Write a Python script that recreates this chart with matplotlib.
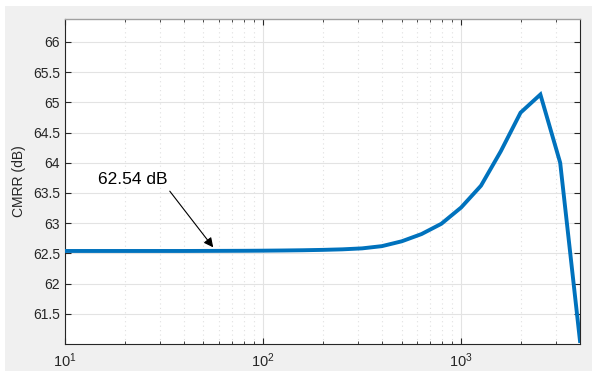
import matplotlib
matplotlib.use('Agg')
import matplotlib.pyplot as plt
from matplotlib.patches import Rectangle
from matplotlib.ticker import LogLocator, NullFormatter, FixedLocator

# Data
freq = [10.0, 12.59, 15.85, 19.95, 25.12, 31.62, 39.81, 50.12, 63.1, 79.43,
        100.0, 125.9, 158.5, 199.5, 251.2, 316.2, 398.1, 501.2, 631.0, 794.3,
        1000.0, 1259.0, 1585.0, 1995.0, 2512.0, 3162.0, 3981.0]
cmrr = [62.54, 62.54, 62.54, 62.54, 62.54, 62.54, 62.54, 62.541, 62.542, 62.543,
        62.545, 62.548, 62.552, 62.558, 62.567, 62.583, 62.62, 62.70, 62.82, 62.99,
        63.26, 63.62, 64.19, 64.83, 65.13, 64.00, 61.05]
y_ticks = [61.5, 62, 62.5, 63, 63.5, 64, 64.5, 65, 65.5, 66]
note_text = '62.54 dB'

plt.rcParams['font.family'] = ['Liberation Sans', 'DejaVu Sans']
plt.rcParams['mathtext.fontset'] = 'custom'
plt.rcParams['mathtext.rm'] = 'Liberation Sans'

fig = plt.figure(figsize=(5.92, 3.71), dpi=100, facecolor='white')
# MATLAB grey figure background, with a thin white strip left/top
fig.patches.append(Rectangle((5 / 592, 0), 1, 1 - 6 / 371, transform=fig.transFigure,
                             facecolor='#f0f0f0', edgecolor='none', zorder=-10))

ax = fig.add_axes([65 / 592, 27 / 371, 515 / 592, 325 / 371])
ax.plot(freq, cmrr, color='#0072BD', lw=2.8, solid_joinstyle='miter', zorder=3)
ax.set_xscale('log')
ax.set_xlim(10, 3981)
ax.set_ylim(61, 66.38)

ax.yaxis.set_major_locator(FixedLocator(y_ticks))
ax.set_yticklabels([f'{v:g}' for v in y_ticks])
ax.xaxis.set_major_locator(LogLocator(base=10))
ax.xaxis.set_minor_locator(LogLocator(base=10, subs=range(2, 10)))
ax.xaxis.set_minor_formatter(NullFormatter())

ax.grid(True, which='major', color='#e3e3e3', lw=0.8, zorder=0)
ax.grid(True, which='minor', axis='x', color='#e0e0e0', lw=0.8, ls=(0, (1, 3)), zorder=0)

ax.tick_params(which='both', direction='in', top=True, right=True,
               colors='#262626', labelsize=10)
ax.tick_params(which='major', length=4, width=0.8)
ax.tick_params(which='minor', length=2.5, width=0.6)
ax.tick_params(axis='x', pad=5, labelsize=10.5)
for side in ['left', 'right', 'bottom']:
    ax.spines[side].set_color('#262626')
    ax.spines[side].set_linewidth(0.8)
ax.spines['top'].set_color('#a0a0a0')
ax.spines['top'].set_linewidth(1.0)

ax.set_ylabel('CMRR (dB)', fontsize=10, color='#262626', labelpad=5)

ax.annotate('', xy=(56, 62.60), xytext=(33.8, 63.53),
            arrowprops=dict(arrowstyle='-|>', color='black', lw=0.8,
                            mutation_scale=14, shrinkA=0, shrinkB=0), zorder=4)
ax.text(14.7, 63.72, note_text, fontsize=12.5, color='black', va='center', ha='left')

fig.savefig('out.png', dpi=100, facecolor=fig.get_facecolor())
